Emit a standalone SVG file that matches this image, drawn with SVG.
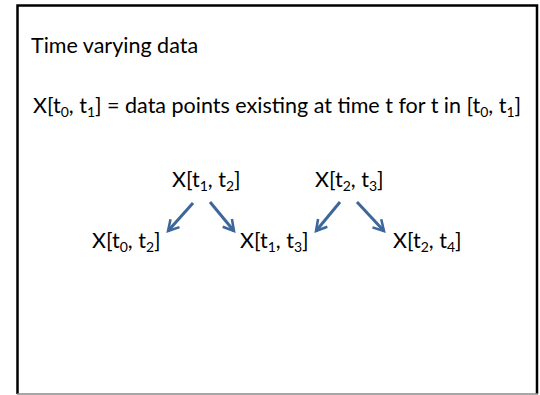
<svg xmlns="http://www.w3.org/2000/svg" width="540" height="395" viewBox="0 0 540 395">
<style>
text{font-family:Lato,"Liberation Sans",sans-serif;font-size:21.5px;fill:#000}
.s{font-size:14px}
.c{stroke:#3D679A;stroke-width:3;fill:none}
</style>
<defs>
<marker id="ah" viewBox="0 0 10 10" refX="8" refY="5" markerWidth="5" markerHeight="5" orient="auto" markerUnits="strokeWidth">
<polyline points="1,1 8,5 1,9" fill="none" stroke="#3D679A" stroke-width="1.7" stroke-linecap="butt" stroke-linejoin="miter"/>
</marker>
</defs>
<rect width="540" height="395" fill="#fff"/>
<path d="M17.5,394 V5.5 H537 V394" fill="none" stroke="#000" stroke-width="2.5"/>
<line x1="17" y1="394" x2="538" y2="394" stroke="#888" stroke-width="1.5"/>
<g id="title"><text x="31" y="53" font-size="21">Time varying data</text></g>
<g id="definition"><text x="33" y="113">X[t<tspan class="s" dy="4">0</tspan><tspan dy="-4">, t</tspan><tspan class="s" dy="4">1</tspan><tspan dy="-4">] = data points existing at time t for t in [t</tspan><tspan class="s" dy="4">0</tspan><tspan dy="-4">, t</tspan><tspan class="s" dy="4">1</tspan><tspan dy="-4">]</tspan></text></g>
<g id="n12"><text x="172" y="187">X[t<tspan class="s" dy="4">1</tspan><tspan dy="-4">, t</tspan><tspan class="s" dy="4">2</tspan><tspan dy="-4">]</tspan></text></g>
<g id="n23"><text x="315" y="187">X[t<tspan class="s" dy="4">2</tspan><tspan dy="-4">, t</tspan><tspan class="s" dy="4">3</tspan><tspan dy="-4">]</tspan></text></g>
<g id="n02"><text x="92" y="248">X[t<tspan class="s" dy="4">0</tspan><tspan dy="-4">, t</tspan><tspan class="s" dy="4">2</tspan><tspan dy="-4">]</tspan></text></g>
<g id="n13"><text x="240" y="248">X[t<tspan class="s" dy="4">1</tspan><tspan dy="-4">, t</tspan><tspan class="s" dy="4">3</tspan><tspan dy="-4">]</tspan></text></g>
<g id="n24"><text x="393" y="248">X[t<tspan class="s" dy="4">2</tspan><tspan dy="-4">, t</tspan><tspan class="s" dy="4">4</tspan><tspan dy="-4">]</tspan></text></g>
<g id="connectors">
<line class="c" x1="193" y1="203" x2="168" y2="231" marker-end="url(#ah)"/>
<line class="c" x1="210" y1="202" x2="234" y2="231" marker-end="url(#ah)"/>
<line class="c" x1="340" y1="202" x2="316" y2="231" marker-end="url(#ah)"/>
<line class="c" x1="357" y1="202" x2="384" y2="231" marker-end="url(#ah)"/>
</g>
</svg>
